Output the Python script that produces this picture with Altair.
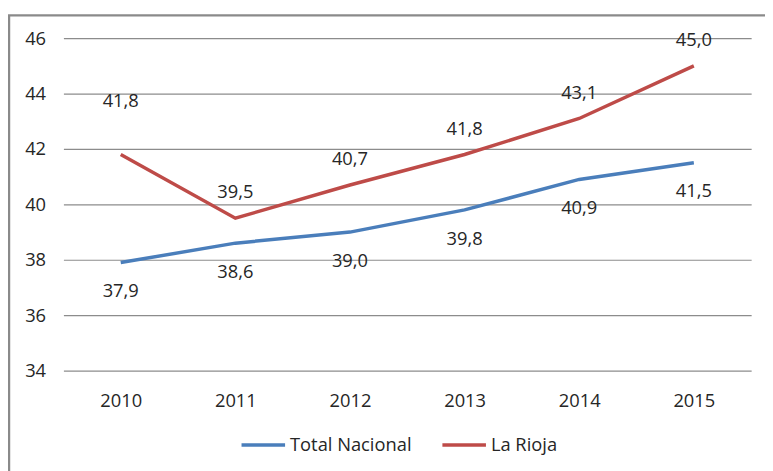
import altair as alt
import pandas as pd

years = ["2010", "2011", "2012", "2013", "2014", "2015"]
total_nacional = [37.9, 38.6, 39.0, 39.8, 40.9, 41.5]
la_rioja = [41.8, 39.5, 40.7, 41.8, 43.1, 45.0]
series_names = ["Total Nacional", "La Rioja"]
colors = ["#4a7ebb", "#be4b48"]

rows = []
for name, vals in zip(series_names, [total_nacional, la_rioja]):
    for y, v in zip(years, vals):
        rows.append({"year": y, "value": v, "series": name,
                     "label": f"{v:.1f}".replace(".", ",")})
df = pd.DataFrame(rows)

FONT = "Open Sans"
FS = 18.5
TXT = "#262626"

x = alt.X("year:N", sort=years, title=None,
          scale=alt.Scale(paddingInner=0, paddingOuter=0, align=0.5),
          axis=alt.Axis(labelAngle=0, ticks=False, domain=False, labelPadding=21,
                        labelFont=FONT, labelFontSize=FS, labelColor=TXT))
y = alt.Y("value:Q", title=None,
          scale=alt.Scale(domain=[34, 46], nice=False, zero=False),
          axis=alt.Axis(values=[34, 36, 38, 40, 42, 44, 46], ticks=False, domain=False,
                        labelPadding=18, labelFont=FONT, labelFontSize=FS, labelColor=TXT,
                        gridColor="#8c8c8c", gridWidth=1.2, gridOpacity=1))
color = alt.Color("series:N", sort=series_names,
                  scale=alt.Scale(domain=series_names, range=colors),
                  legend=alt.Legend(title=None, orient="none", direction="horizontal",
                                    legendX=178, legendY=387,
                                    symbolType="stroke", symbolSize=1936,
                                    symbolStrokeWidth=3.5, labelFont=FONT,
                                    labelFontSize=FS, labelColor=TXT,
                                    labelOffset=3, columnPadding=24))

base = alt.Chart(df)

frame = alt.Chart(pd.DataFrame({"a": [0]})).mark_rect(
    fill=None, stroke="#8a8a8a", strokeWidth=2.5, clip=False
).encode(x=alt.value(-55), x2=alt.value(900), y=alt.value(-23), y2=alt.value(600))

lines = base.mark_line(strokeWidth=3.5).encode(
    x=x, y=y, color=color)

lbl_blue = base.transform_filter(alt.datum.series == "Total Nacional").mark_text(
    dy=29, font=FONT, fontSize=FS, color=TXT, baseline="middle").encode(
    x=alt.X("year:N", sort=years), y="value:Q", text="label:N")

lbl_red = base.transform_filter(
    (alt.datum.series == "La Rioja") & (alt.datum.year != "2010")).mark_text(
    dy=-26, font=FONT, fontSize=FS, color=TXT, baseline="middle").encode(
    x=alt.X("year:N", sort=years), y="value:Q", text="label:N")

lbl_red0 = base.transform_filter(
    (alt.datum.series == "La Rioja") & (alt.datum.year == "2010")).mark_text(
    dy=-54, font=FONT, fontSize=FS, color=TXT, baseline="middle").encode(
    x=alt.X("year:N", sort=years), y="value:Q", text="label:N")

chart = alt.layer(frame, lines, lbl_blue, lbl_red, lbl_red0).properties(
    width=695, height=336,
    autosize=alt.AutoSizeParams(type="none"),
    padding={"left": 56, "top": 28, "right": 14, "bottom": 99},
    background="white",
).configure_view(stroke=None)

chart.save("out.html", embed_options={"renderer": "svg", "actions": False})
